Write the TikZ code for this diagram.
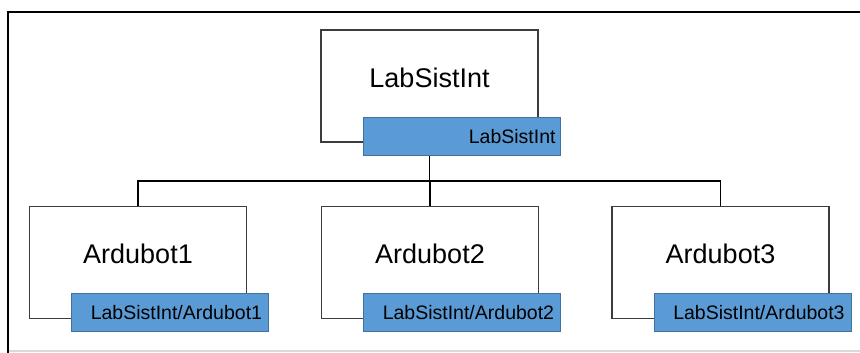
\documentclass[tikz,border=0pt]{standalone}
\usepackage{fontspec}
\setmainfont{Liberation Sans}
\usetikzlibrary{positioning}
\newlength{\unitboxwidth}
\newlength{\unitboxheight}
\newlength{\tagboxwidth}
\newlength{\tagboxheight}
\setlength{\unitboxwidth}{217pt}
\setlength{\unitboxheight}{112pt}
\setlength{\tagboxwidth}{197pt}
\setlength{\tagboxheight}{38pt}
\definecolor{tagfillcolor}{RGB}{91,155,213}
\definecolor{tagbordercolor}{RGB}{65,113,156}
\definecolor{unitbordercolor}{RGB}{60,60,60}
\definecolor{baselinecolor}{RGB}{217,217,217}
\tikzstyle{unitbox} = [draw=unitbordercolor, line width=1.5pt, fill=white, minimum width=\unitboxwidth, minimum height=\unitboxheight, inner sep=0]
\tikzstyle{tagbox} = [draw=tagbordercolor, line width=1pt, fill=tagfillcolor, minimum width=\tagboxwidth, minimum height=\tagboxheight, inner sep=0, anchor=south east]
\tikzstyle{unitname} = [font=\fontsize{27}{30}\selectfont, inner sep=0]
\tikzstyle{tagname} = [font=\fontsize{19.5}{22}\selectfont, inner sep=0, anchor=east]
\tikzstyle{wire} = [draw=black, line width=1.5pt]

\begin{document}
\begin{tikzpicture}[
		x=1pt, y=-1pt
		]
		\useasboundingbox (0,0) rectangle (860,353);
		
		% frame
		\draw[baselinecolor, line width=1.5pt] (8,351) -- (860,351);
		\draw[black, line width=2pt] (8,353) -- (8,12) -- (860,12);
		
		\coordinate (bus) at (0,181);
		
		% root
		\node[unitbox] (root) at (429.5,86) {};
		\node[unitname] (rootname) at ([yshift=8.5pt]root.center) {LabSistInt};
		\node[tagbox] (roottag) at ([xshift=22pt, yshift=-13pt]root.south east) {};
		\node[tagname] (roottagname) at ([xshift=-5pt]roottag.east) {LabSistInt};
		
		% robots
		\node[unitbox] (bot1) at (138,262.5) {};
		\node[unitname] (bot1name) at ([yshift=9pt]bot1.center) {Ardubot1};
		\node[tagbox] (bot1tag) at ([xshift=22pt, yshift=-13pt]bot1.south east) {};
		\node[tagname] (bot1tagname) at ([xshift=-7pt]bot1tag.east) {LabSistInt/Ardubot1};
		
		\node[unitbox] (bot2) at (430,262.5) {};
		\node[unitname] (bot2name) at ([yshift=9pt]bot2.center) {Ardubot2};
		\node[tagbox] (bot2tag) at ([xshift=22pt, yshift=-13pt]bot2.south east) {};
		\node[tagname] (bot2tagname) at ([xshift=-7pt]bot2tag.east) {LabSistInt/Ardubot2};
		
		\node[unitbox] (bot3) at (720.5,262.5) {};
		\node[unitname] (bot3name) at ([yshift=9pt]bot3.center) {Ardubot3};
		\node[tagbox] (bot3tag) at ([xshift=22pt, yshift=-13pt]bot3.south east) {};
		\node[tagname] (bot3tagname) at ([xshift=-7pt]bot3tag.east) {LabSistInt/Ardubot3};
		
		% connections
		\draw[wire] (root |- roottag.south) -- (root |- bus);
		\draw[wire] (bot1.north) -- (bot1 |- bus) -- (bot3 |- bus) -- (bot3.north);
		\draw[wire] (bot2.north) -- (bot2 |- bus);
		
	\end{tikzpicture}
\end{document}
